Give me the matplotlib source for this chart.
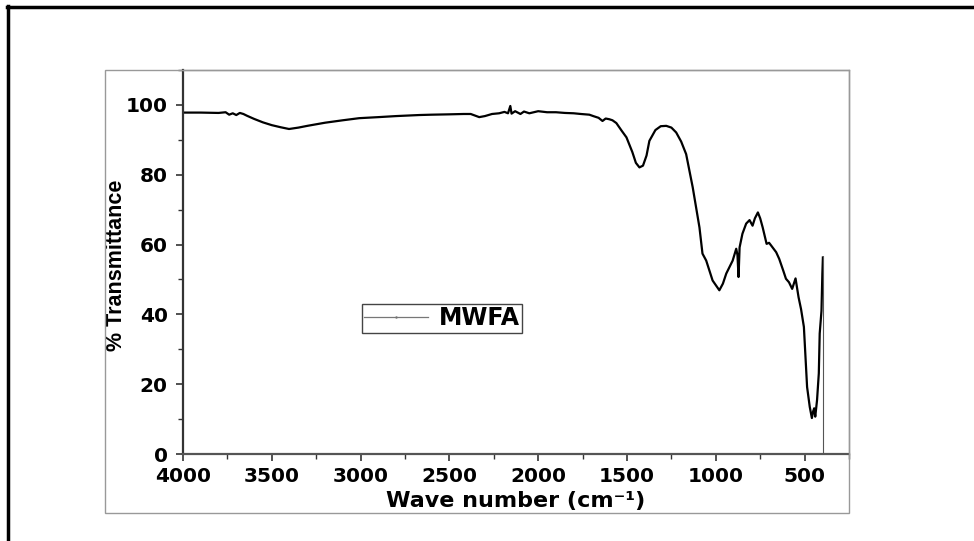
import matplotlib
matplotlib.use("Agg")
import matplotlib.pyplot as plt
from matplotlib.lines import Line2D
from matplotlib.patches import Rectangle
from matplotlib.ticker import MultipleLocator

plt.rcParams["font.family"] = ["DejaVu Sans"]

# ─── FTIR spectrum (wave number, % transmittance) ──────────────────────────────

wave = [4000, 3900, 3800, 3760, 3740, 3720, 3700, 3680, 3660, 3640, 3600,
        3550, 3500, 3450, 3403, 3350, 3300, 3200, 3100, 3008, 2900,
        2800, 2670, 2600, 2500, 2420, 2380, 2332, 2300, 2260, 2220,
        2190, 2170, 2157, 2150, 2130, 2100, 2080, 2050, 2000, 1950,
        1900, 1850, 1800, 1760, 1712, 1690, 1660, 1638, 1620, 1600,
        1582, 1560, 1530, 1503, 1470, 1450, 1430, 1410, 1390, 1374,
        1340, 1310, 1279, 1250, 1223, 1195, 1167, 1130, 1092, 1075,
        1054, 1018, 980, 960, 941, 905, 885, 878, 872, 866, 850, 829,
        810, 793, 780, 763, 750, 736, 714, 700, 688, 660, 643, 620,
        605, 588, 570, 551, 534, 520, 504, 486, 471, 459, 452, 446,
        440, 430, 420, 415, 405, 400, 397, 397]
trans = [97.8, 97.8, 97.7, 97.9, 97.2, 97.6, 97.1, 97.7, 97.4, 96.9, 96.0,
         95.0, 94.2, 93.6, 93.1, 93.5, 94.0, 94.9, 95.6, 96.2, 96.5,
         96.8, 97.1, 97.2, 97.3, 97.4, 97.4, 96.5, 96.8, 97.4, 97.6,
         98.0, 97.6, 99.7, 97.5, 98.2, 97.4, 98.1, 97.6, 98.2, 97.9,
         97.9, 97.7, 97.6, 97.4, 97.2, 96.8, 96.3, 95.4, 96.1, 95.9,
         95.6, 94.8, 92.6, 90.7, 86.5, 83.4, 82.1, 82.6, 85.5, 89.7,
         92.8, 93.9, 94.0, 93.5, 92.1, 89.5, 85.9, 76.4, 64.9, 57.4,
         55.4, 49.7, 46.9, 48.8, 51.7, 55.4, 58.8, 57.0, 50.7, 59.2,
         63.1, 66.0, 67.0, 65.4, 67.5, 69.2, 67.5, 64.9, 60.2, 60.5,
         59.7, 57.8, 55.9, 52.5, 50.2, 49.2, 47.3, 50.3, 44.9, 41.5,
         36.4, 19.2, 13.5, 10.3, 12.2, 13.1, 10.7, 15.4, 23.1, 34.5,
         41.0, 51.7, 56.3, 0.0]

x_ticks = [4000, 3500, 3000, 2500, 2000, 1500, 1000, 500]
y_ticks = [0, 20, 40, 60, 80, 100]
series_name = "MWFA"

# ─── Figure ───────────────────────────────────────────────────────────────────

W, H = 974, 541
fig = plt.figure(figsize=(W / 100, H / 100), dpi=100)
fig.patch.set_facecolor("white")

ax = fig.add_axes([183 / W, 1 - 454 / H, (849 - 183) / W, (454 - 70) / H])

ax.plot(wave[:-1], trans[:-1], color="black", linewidth=1.6)
ax.plot(wave[-2:], trans[-2:], color="#555555", linewidth=0.8)

ax.set_xlim(4000, 250)
ax.set_ylim(0, 110)
ax.set_xticks(x_ticks)
ax.set_yticks(y_ticks)
ax.xaxis.set_minor_locator(MultipleLocator(250))
ax.yaxis.set_minor_locator(MultipleLocator(10))

ax.tick_params(which="major", direction="out", length=5, width=1.2,
               labelsize=14.5, color="#333333")
ax.tick_params(axis="x", which="major", pad=4)
ax.tick_params(axis="y", which="major", pad=6)
ax.tick_params(which="minor", direction="out", length=3.5, width=1.0,
               color="#333333")
for lab in ax.get_xticklabels() + ax.get_yticklabels():
    lab.set_fontweight("bold")

ax.spines["left"].set_linewidth(1.6)
ax.spines["bottom"].set_linewidth(1.6)
ax.spines["left"].set_color("#333333")
ax.spines["bottom"].set_color("#555555")
for s in ("top", "right"):
    ax.spines[s].set_color("#999999")
    ax.spines[s].set_linewidth(1.0)

ax.set_xlabel("Wave number (cm⁻¹)", fontsize=16, fontweight="bold", labelpad=4)
ax.set_ylabel("% Transmittance", fontsize=15.5, fontweight="bold",
              family="Liberation Sans")
ax.yaxis.label.set_va("center")
ax.yaxis.set_label_coords((117 - 183) / 666, (454 - 265) / 384)

handle = Line2D([], [], color="#777777", linewidth=0.9, marker=".",
                markersize=1.5, markerfacecolor="black")
leg = ax.legend([handle], [series_name], loc="upper left",
                bbox_to_anchor=((362 - 183) / 666, (454 - 304) / 384),
                fancybox=False, framealpha=1, edgecolor="#444444",
                handlelength=2.7, borderpad=0.1, handletextpad=0.45,
                borderaxespad=0, prop={"weight": "bold", "size": 17})
leg.get_frame().set_linewidth(1.0)

# gray frame round the plot, and the black page edge
fig.patches.append(Rectangle((105 / W, 1 - 513 / H), (849 - 105) / W,
                             (513 - 70) / H, transform=fig.transFigure,
                             fill=False, edgecolor="#999999", linewidth=1.0))
fig.lines.append(Line2D([7 / W, 1], [1 - 7 / H, 1 - 7 / H],
                        transform=fig.transFigure, color="black", linewidth=2.5))
fig.lines.append(Line2D([8 / W, 8 / W], [0, 1 - 6 / H],
                        transform=fig.transFigure, color="black", linewidth=2.5))

fig.savefig("out.png", dpi=100, facecolor="white")
plt.close(fig)
